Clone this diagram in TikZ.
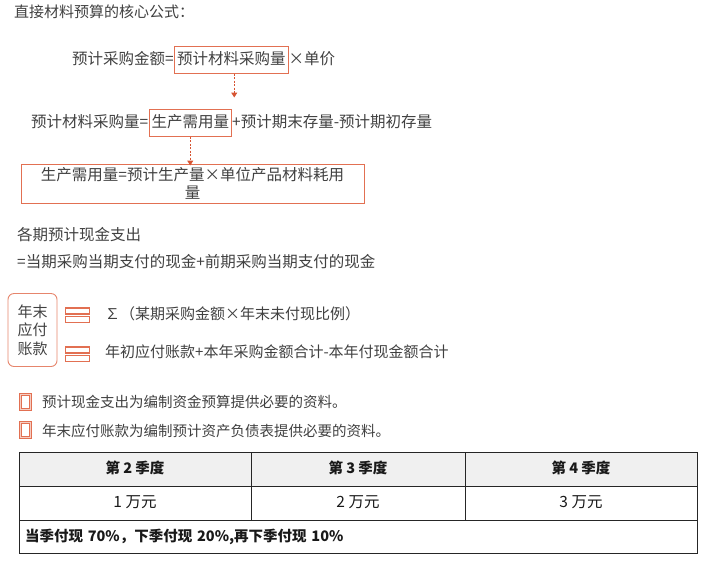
\documentclass[tikz,border=0pt]{standalone}
\usepackage{fontspec}
\setmainfont{Noto Sans CJK SC}
\usepackage{xcolor}
\usepackage{tikz}
\usetikzlibrary{arrows.meta,positioning}
\definecolor{boxred}{RGB}{226,112,82}
\definecolor{arrred}{RGB}{214,84,50}
\definecolor{txtgray}{RGB}{64,64,64}
\definecolor{headgray}{RGB}{240,240,240}

\begin{document}
\begin{tikzpicture}[
                    x=1pt, y=-1pt,
                    every node/.style={text=txtgray, font=\fontsize{15.5}{18}\selectfont, text height=12pt, text depth=3pt},
                    plain/.style={inner sep=0pt, anchor=west},
                    hbox/.style={draw=boxred, line width=1pt, inner xsep=2.5pt, inner ysep=0pt, minimum height=27pt},
                    bigbox/.style={draw=boxred, line width=1pt, align=center, inner sep=0pt, text height=, text depth=},
                    flow/.style={-{Triangle[length=5pt, width=6pt]}, arrred, line width=1pt, dash pattern=on 2pt off 1.5pt},
                    rbox/.style={draw=boxred!85, line width=0.9pt, rounded corners=6pt, align=center, inner sep=0pt, text height=, text depth=, font=\fontsize{15}{18.5}\selectfont},
                    bars/.style={draw=boxred, line width=1.3pt, minimum width=24pt, minimum height=6pt, inner sep=0pt, text height=, text depth=},
                    chk/.style={draw=boxred, double=boxred!35, double distance=1pt, line width=1pt, minimum width=10.5pt, minimum height=15pt, inner sep=0pt, text height=, text depth=},
                    note/.style={inner sep=0pt, anchor=west, font=\fontsize{14.5}{17}\selectfont},
                    cell/.style={draw=black!85, line width=0.8pt, inner sep=0pt, outer sep=0pt, minimum height=33.7pt, text=black!90},
                    head/.style={cell, fill=headgray, font=\bfseries\fontsize{14.5}{17}\selectfont}
                ]
                    \useasboundingbox (0,0) rectangle (704,566);

                    % Title
                    \node[plain, font=\fontsize{15}{18}\selectfont] (Title) at (14,13) {直接材料预算的核心公式：};

                    % Formulas
                    \node[plain] (FormA) at (72,59.5) {预计采购金额=};
                    \node[hbox, right=0pt of FormA] (FormAbox) {预计材料采购量};
                    \node[plain, right=0pt of FormAbox] (FormAend) {×单价};

                    \node[plain] (FormB) at (31,122.5) {预计材料采购量=};
                    \node[hbox, right=0pt of FormB] (FormBbox) {生产需用量};
                    \node[plain, right=0pt of FormBbox] (FormBend) {+预计期末存量-预计期初存量};

                    \node[bigbox, minimum width=343pt, minimum height=39pt] (FormC) at (192.5,183.5) {生产需用量=预计生产量×单位产品材料耗用\\量};

                    % Links
                    \coordinate[below=24pt of FormAbox.south] (FormAtip);
                    \draw[flow] ([xshift=3pt]FormAbox.south) -- ([xshift=3pt]FormAtip);
                    \draw[flow] (FormBbox.south) -- ([yshift=-2pt]FormBbox.south |- FormC.north);

                    % Cash payments
                    \node[plain] (CashA) at (17,236) {各期预计现金支出};
                    \node[plain] (CashB) at (17,263) {=当期采购当期支付的现金+前期采购当期支付的现金};

                    % Payables
                    \node[rbox, minimum width=49pt, minimum height=73pt] (Payable) at (32.5,330) {年末\\应付\\账款};
                    \node[bars] (BarAtop) at (77.5,311) {};
                    \node[bars, below=1pt of BarAtop] (BarAbot) {};
                    \node[bars] (BarBtop) at (77.5,350) {};
                    \node[bars, below=1pt of BarBtop] (BarBbot) {};
                    \node[plain, font=\fontsize{15}{18}\selectfont] (PayA) at (105,314.5) {∑（某期采购金额×年末未付现比例）};
                    \node[plain, font=\fontsize{15}{18}\selectfont] (PayB) at (105,353) {年初应付账款+本年采购金额合计-本年付现金额合计};

                    % Notes
                    \node[chk] (NoteAicon) at (25.5,401.5) {};
                    \node[note] (NoteA) at (42,403) {预计现金支出为编制资金预算提供必要的资料。};
                    \node[chk] (NoteBicon) at (25.5,429.5) {};
                    \node[note] (NoteB) at (42,431.5) {年末应付账款为编制预计资产负债表提供必要的资料。};

                    % Table
                    \node[head, minimum width=232pt, anchor=north west] (QtrTwo) at (19,452.5) {第 2 季度};
                    \node[head, minimum width=214pt, right=0pt of QtrTwo] (QtrThree) {第 3 季度};
                    \node[head, minimum width=232pt, right=0pt of QtrThree] (QtrFour) {第 4 季度};
                    \node[cell, minimum width=232pt, below=0pt of QtrTwo] (AmtTwo) {1 万元};
                    \node[cell, minimum width=214pt, below=0pt of QtrThree] (AmtThree) {2 万元};
                    \node[cell, minimum width=232pt, below=0pt of QtrFour] (AmtFour) {3 万元};
                    \node[cell, text width=666pt, inner xsep=6pt, align=left, font=\bfseries\fontsize{14.5}{17}\selectfont, below=0pt of AmtThree] (PayRule) {当季付现 70\%，下季付现 20\%,再下季付现 10\%};
                \end{tikzpicture}
\end{document}
